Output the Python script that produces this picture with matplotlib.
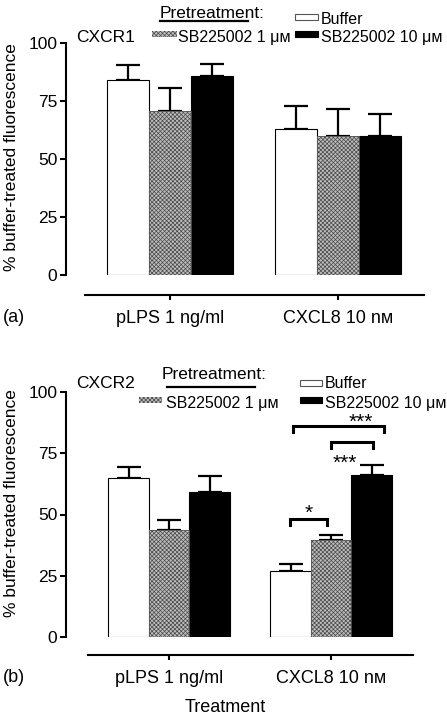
import matplotlib
matplotlib.use("Agg")
import matplotlib.pyplot as plt
from matplotlib.patches import Rectangle
from matplotlib.lines import Line2D

plt.rcParams['font.family'] = ['Liberation Sans', 'DejaVu Sans']
plt.rcParams['hatch.linewidth'] = 0.5

W, H = 447, 717
DPI = 100

categories = ["pLPS 1 ng/ml", "CXCL8 10 nм"]
series = ["Buffer", "SB225002 1 μм", "SB225002 10 μм"]

# Panel (a) CXCR1
a_buffer = [84.0, 63.0]
a_buffer_err = [6.5, 9.8]
a_sb1 = [70.7, 60.0]
a_sb1_err = [9.9, 11.5]
a_sb10 = [85.8, 60.0]
a_sb10_err = [5.2, 9.5]

# Panel (b) CXCR2
b_buffer = [64.9, 27.0]
b_buffer_err = [4.5, 2.8]
b_sb1 = [43.7, 39.6]
b_sb1_err = [4.1, 2.0]
b_sb10 = [59.2, 66.1]
b_sb10_err = [6.5, 4.1]

yticks = [0, 25, 50, 75, 100]

GRAY_FACE = '#bdbdbd'
GRAY_HATCH = '#4a4a4a'
HATCH = 'xxxxxxxx'

fig = plt.figure(figsize=(W / DPI, H / DPI), dpi=DPI)


def fx(px):
    return px / W


def fy(py):
    return 1 - py / H


def draw_panel(ax, vals, errs, bw, offset):
    faces = ['white', GRAY_FACE, 'black']
    for i, (v, e) in enumerate(zip(vals, errs)):
        xs = [g + (i - 1) * bw for g in range(len(categories))]
        if i == 1:
            ax.bar(xs, v, bw, color=faces[i], edgecolor=GRAY_HATCH, hatch=HATCH, linewidth=0, zorder=2)
            ax.bar(xs, v, bw, facecolor='none', edgecolor='#555555', linewidth=0.6, zorder=3)
        else:
            ax.bar(xs, v, bw, color=faces[i], edgecolor='black', linewidth=0.8, zorder=2)
        ax.errorbar(xs, v, yerr=[[0] * len(v), e], fmt='none', ecolor='black',
                    elinewidth=1.6, capsize=8.3, capthick=1.6, zorder=1)
    ax.set_ylim(0, 100)
    ax.set_yticks(yticks)
    ax.set_yticklabels([str(t) for t in yticks], fontsize=12.5)
    ax.spines['top'].set_visible(False)
    ax.spines['right'].set_visible(False)
    ax.spines['left'].set_linewidth(1.5)
    ax.spines['left'].set_bounds(0, 100)
    ax.spines['bottom'].set_position(('outward', offset * 72 / DPI))
    ax.spines['bottom'].set_linewidth(1.5)
    ax.tick_params(axis='y', direction='out', length=4.3, width=1.5, pad=2)
    ax.tick_params(axis='x', direction='out', length=3.6, width=1.5, pad=7.5)
    ax.set_xticks(range(len(categories)))
    ax.set_xticklabels(categories, fontsize=13)
    ax.patch.set_alpha(0)


def legend(items_px, pre_px, under_px):
    for x0, x1, y, tx, ty, label, style in items_px:
        h = 6
        if style == 'gray':
            r = Rectangle((fx(x0), fy(y + h / 2)), fx(x1) - fx(x0), h / H, transform=fig.transFigure,
                          facecolor=GRAY_FACE, edgecolor=GRAY_HATCH, hatch=HATCH, linewidth=0)
        elif style == 'white':
            r = Rectangle((fx(x0), fy(y + h / 2)), fx(x1) - fx(x0), h / H, transform=fig.transFigure,
                          facecolor='white', edgecolor='#555555', linewidth=0.8)
        else:
            r = Rectangle((fx(x0), fy(y + h / 2)), fx(x1) - fx(x0), h / H, transform=fig.transFigure,
                          facecolor='black', edgecolor='black', linewidth=0.8)
        fig.add_artist(r)
        fig.text(fx(tx), fy(ty), label, fontsize=11.5, ha='left', va='baseline')
    fig.text(fx(pre_px[0]), fy(pre_px[1]), "Pretreatment:", fontsize=12.5, ha='left', va='baseline')
    fig.add_artist(Line2D([fx(under_px[0]), fx(under_px[1])], [fy(under_px[2])] * 2,
                          transform=fig.transFigure, color='black', linewidth=1.6))


# ---- Panel a ----
axa = fig.add_axes([fx(66), fy(275), fx(440) - fx(66), (275 - 43) / H])
axa.set_xlim((66 - 170) / 168, (440 - 170) / 168)
draw_panel(axa, [a_buffer, a_sb1, a_sb10], [a_buffer_err, a_sb1_err, a_sb10_err], 0.25, 20)
axa.spines['bottom'].set_bounds((85 - 170) / 168, (424 - 170) / 168)

fig.text(fx(76), fy(41.5), "CXCR1", fontsize=12.5, ha='left', va='baseline')
legend([(295, 318, 16.7, 321, 24, series[0], 'white'),
        (152, 177, 33.7, 178, 41.7, series[1], 'gray'),
        (295, 318, 33.7, 321, 41.7, series[2], 'black')],
       (160, 18.3), (160, 248, 21))
fig.text(fx(12), fy(157), "% buffer-treated fluorescence", fontsize=12.5, rotation=90,
         ha='center', va='center')
fig.text(fx(3), fy(322.5), "(a)", fontsize=13, ha='left', va='baseline')

# ---- Panel b ----
axb = fig.add_axes([fx(66), fy(637), fx(440) - fx(66), (637 - 392) / H])
axb.set_xlim((66 - 169) / 162, (440 - 169) / 162)
draw_panel(axb, [b_buffer, b_sb1, b_sb10], [b_buffer_err, b_sb1_err, b_sb10_err], 0.25, 18)
axb.spines['bottom'].set_bounds((88 - 169) / 162, (413 - 169) / 162)

fig.text(fx(76), fy(388), "CXCR2", fontsize=12.5, ha='left', va='baseline')
legend([(300, 322, 382.5, 325, 388, series[0], 'white'),
        (139, 162, 399.7, 166, 408, series[1], 'gray'),
        (300, 322, 399.7, 325, 408, series[2], 'black')],
       (162, 379.3), (167, 255, 386.7))
fig.text(fx(12), fy(503), "% buffer-treated fluorescence", fontsize=12.5, rotation=90,
         ha='center', va='center')
fig.text(fx(3), fy(682.5), "(b)", fontsize=13, ha='left', va='baseline')
fig.text(fx(225), fy(712.5), "Treatment", fontsize=13, ha='center', va='baseline')

# significance brackets (panel b)
brackets = [
    (0.747, 0.975, 48.2, 45.7, "*", 0.864, 50.5),
    (1.000, 1.259, 79.6, 77.0, "***", 1.086, 71.0),
    (0.765, 1.327, 86.0, 83.7, "***", 1.185, 87.5),
]
for x0, x1, ytop, yleg, lab, lx, ly in brackets:
    axb.plot([x0, x0, x1, x1], [yleg, ytop, ytop, yleg], color='black', linewidth=2.2,
             clip_on=False, solid_joinstyle='miter', zorder=4)
    axb.text(lx, ly, lab, fontsize=15, ha='center', va='center', clip_on=False)

fig.savefig("out.png", dpi=DPI)
